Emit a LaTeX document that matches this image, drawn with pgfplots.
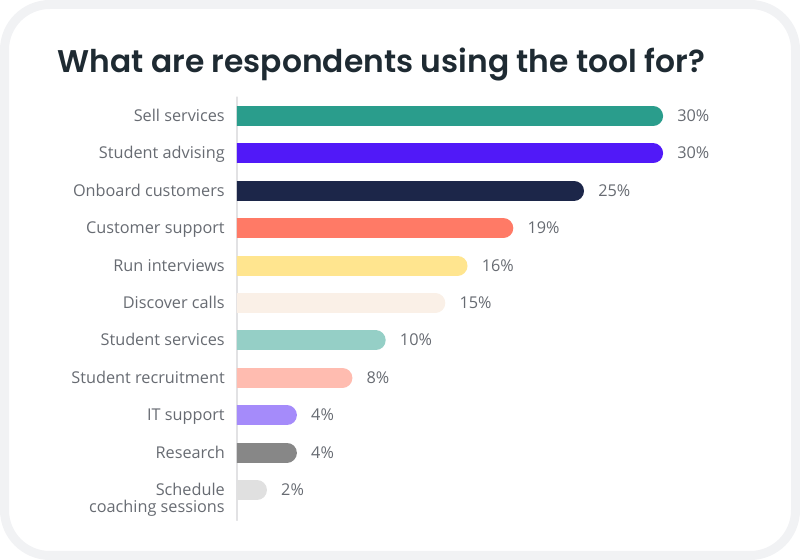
\documentclass[border=0pt]{standalone}
\usepackage{pgfplots}
\pgfplotsset{compat=1.18}
\usepackage{fontspec}
\setmainfont{Open Sans}
\newfontfamily\titlefont{Poppins SemiBold}
\definecolor{framegray}{HTML}{F1F2F4}
\definecolor{axisgray}{HTML}{E2E2E4}
\definecolor{labelgray}{HTML}{676B72}
\definecolor{titlecol}{HTML}{1E2A32}
\definecolor{c1}{HTML}{2A9D8C}
\definecolor{c2}{HTML}{5119F8}
\definecolor{c3}{HTML}{1C2649}
\definecolor{c4}{HTML}{FF7A66}
\definecolor{c5}{HTML}{FFE58F}
\definecolor{c6}{HTML}{FAF0E7}
\definecolor{c7}{HTML}{95CFC6}
\definecolor{c8}{HTML}{FFBCB0}
\definecolor{c9}{HTML}{A58BFA}
\definecolor{c10}{HTML}{878787}
\definecolor{c11}{HTML}{E0E0E0}
\pgfplotstableread{
y v lab
0 30 30
1 30 30
2 24.3 25
3 19.2 19
4 15.9 16
5 14.3 15
6 10.0 10
7 7.6 8
8 3.6 4
9 3.6 4
10 1.44 2
}\datatable
\begin{document}
\begin{tikzpicture}
\useasboundingbox (0,0) rectangle (600pt,420pt);
\draw[framegray, line width=6.75pt, rounded corners=34pt] (3.375pt,3.375pt) rectangle (596.625pt,416.625pt);
\node[anchor=base, text=titlecol, font=\titlefont\fontsize{23.5}{27}\selectfont] at (286pt,365.25pt) {What are respondents using the tool for?};
\begin{axis}[
  at={(177.75pt,347.25pt)}, anchor=north west,
  scale only axis,
  x=10.4025pt, y=28.05pt,
  xmin=0, xmax=38.9, ymin=-0.51, ymax=10.81,
  y dir=reverse,
  axis x line=none, axis y line*=left,
  y axis line style={draw=axisgray, line width=0.9pt},
  ytick={0,...,10},
  yticklabels={Sell services, Student advising, Onboard customers, Customer support, Run interviews, Discover calls, Student services, Student recruitment, IT support, Research, {\begin{tabular}[t]{@{}r@{}}Schedule\\coaching sessions\end{tabular}}},
  major tick length=0pt,
  yticklabel style={font=\fontsize{12.2}{12}\selectfont, text=labelgray, anchor=base east, inner sep=0pt, xshift=-9pt, yshift=-4pt},
  clip=true,
  line cap=round,
]
\addplot[line width=15pt, color=c1] coordinates {(0,0) (30,0)};
\addplot[line width=15pt, color=c2] coordinates {(0,1) (30,1)};
\addplot[line width=15pt, color=c3] coordinates {(0,2) (24.3,2)};
\addplot[line width=15pt, color=c4] coordinates {(0,3) (19.2,3)};
\addplot[line width=15pt, color=c5] coordinates {(0,4) (15.9,4)};
\addplot[line width=15pt, color=c6] coordinates {(0,5) (14.3,5)};
\addplot[line width=15pt, color=c7] coordinates {(0,6) (10.0,6)};
\addplot[line width=15pt, color=c8] coordinates {(0,7) (7.6,7)};
\addplot[line width=15pt, color=c9] coordinates {(0,8) (3.6,8)};
\addplot[line width=15pt, color=c10] coordinates {(0,9) (3.6,9)};
\addplot[line width=15pt, color=c11] coordinates {(0,10) (1.44,10)};
\addplot[draw=none, mark=none, point meta=\thisrow{lab},
  nodes near coords={\pgfmathprintnumber[assume math mode=true]{\pgfplotspointmeta}\%},
  nodes near coords style={anchor=base west, xshift=18pt, yshift=-4pt, inner sep=0pt, text=labelgray, font=\fontsize{12.2}{14}\selectfont}]
  table[x=v, y=y] {\datatable};
\end{axis}
\end{tikzpicture}
\end{document}
